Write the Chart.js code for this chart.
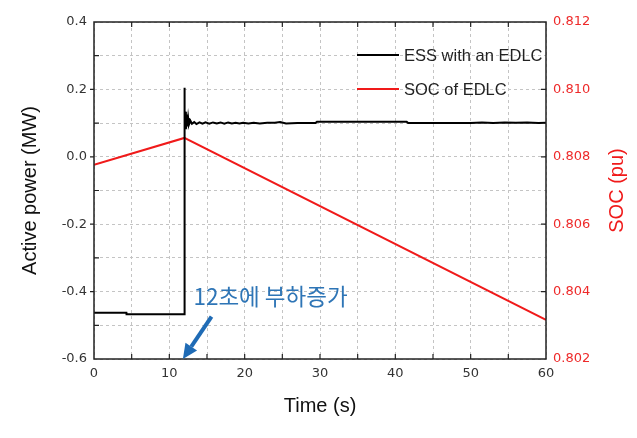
<!DOCTYPE html>
<html lang="ko">
<head>
<meta charset="UTF-8">
<title>ESS with an EDLC</title>
<script src="https://cdn.jsdelivr.net/npm/chart.js"></script>
<style>
  body { margin: 0; background: #fff; }
  canvas { display: block; }
</style>
</head>
<body>
<canvas id="chart" width="637" height="438"></canvas>
<script>
// active power of the ESS (MW)
const powerTime  = [0, 4.3, 4.32, 11.98, 12.0, 12.05, 12.1, 12.2, 12.3, 12.4, 12.5, 12.6, 12.8, 13.0, 13.3, 13.6, 14.0, 14.4, 14.8, 15.3, 15.8, 16.3, 16.8, 17.3, 17.8, 18.3, 18.8, 19.3, 19.8, 20.5, 21.2, 22.0, 23.0, 24.0, 24.7, 25.5, 27.0, 29.4, 29.6, 33.0, 37.0, 41.5, 41.7, 45.0, 50.0, 51.5, 53.0, 54.5, 56.0, 57.5, 59.0, 60.0];
const powerValue = [-0.463, -0.463, -0.467, -0.467, 0.205, 0.12, 0.134, 0.082, 0.125, 0.09, 0.115, 0.095, 0.107, 0.098, 0.103, 0.097, 0.102, 0.098, 0.102, 0.098, 0.102, 0.099, 0.102, 0.098, 0.102, 0.099, 0.101, 0.099, 0.101, 0.099, 0.101, 0.099, 0.101, 0.101, 0.103, 0.099, 0.100, 0.100, 0.104, 0.104, 0.104, 0.104, 0.100, 0.100, 0.100, 0.102, 0.100, 0.102, 0.101, 0.102, 0.100, 0.101];

// state of charge of the EDLC (pu)
const socTime  = [0, 12, 60];
const socValue = [0.80776, 0.80856, 0.80316];

const seriesLabels = ['ESS with an EDLC', 'SOC of EDLC'];
const seriesColors = ['#000000', '#f01a1a'];

const xTitle = 'Time (s)';
const yTitle = 'Active power (MW)';
const y1Title = 'SOC (pu)';
const note = '12초에 부하증가';

const pts = (xs, ys) => xs.map((x, i) => ({ x: x, y: ys[i] }));

const tickFont = { family: 'DejaVu Sans', size: 13 };

// frame, inner ticks, legend, right title, annotation
const decor = {
  id: 'decor',
  afterDatasetsDraw(chart) {
    const { ctx, chartArea: a, scales } = chart;
    const sx = scales.x, sy = scales.y, sy1 = scales.y1;
    ctx.save();
    ctx.strokeStyle = '#222';
    ctx.lineWidth = 1.5;
    ctx.strokeRect(a.left, a.top, a.right - a.left, a.bottom - a.top);

    ctx.lineWidth = 1.2;
    ctx.beginPath();
    for (let t = 5; t < 60; t += 5) {
      const px = sx.getPixelForValue(t);
      ctx.moveTo(px, a.bottom); ctx.lineTo(px, a.bottom - 5);
      ctx.moveTo(px, a.top); ctx.lineTo(px, a.top + 5);
    }
    for (let k = 1; k < 10; k++) {
      const py = sy.getPixelForValue(-0.6 + k * 0.1);
      if (k % 2 === 0) { ctx.moveTo(a.left - 4, py); ctx.lineTo(a.left, py); }
      else { ctx.moveTo(a.left, py); ctx.lineTo(a.left + 5, py); }
    }
    for (let k = 1; k < 5; k++) {
      const py = sy1.getPixelForValue(0.802 + k * 0.002);
      ctx.moveTo(a.right, py); ctx.lineTo(a.right - 5, py);
    }
    ctx.stroke();

    // legend
    ctx.font = '16.5px "Liberation Sans"';
    ctx.textBaseline = 'middle';
    ctx.textAlign = 'left';
    chart.data.datasets.forEach((ds, i) => {
      const y = a.top + 33 + i * 34;
      const x0 = a.right - 189;
      ctx.strokeStyle = ds.borderColor;
      ctx.lineWidth = 2;
      ctx.beginPath(); ctx.moveTo(x0, y); ctx.lineTo(x0 + 42, y); ctx.stroke();
      ctx.fillStyle = '#222';
      ctx.fillText(ds.label, x0 + 47, y + 1);
    });

    // right axis title
    ctx.save();
    ctx.translate(a.right + 71, (a.top + a.bottom) / 2);
    ctx.rotate(-Math.PI / 2);
    ctx.fillStyle = '#f01a1a';
    ctx.font = '20px "Liberation Sans"';
    ctx.textAlign = 'center';
    ctx.textBaseline = 'middle';
    ctx.fillText(y1Title, 0, 0);
    ctx.restore();

    // annotation
    ctx.fillStyle = '#2e75b6';
    ctx.font = '22.5px "Noto Sans CJK KR"';
    ctx.textAlign = 'left';
    ctx.textBaseline = 'alphabetic';
    ctx.fillText(note, sx.getPixelForValue(13.2), sy.getPixelForValue(-0.441));

    const tx = sx.getPixelForValue(15.6), ty = sy.getPixelForValue(-0.474);
    const hx = sx.getPixelForValue(11.8), hy = sy.getPixelForValue(-0.6);
    const ang = Math.atan2(hy - ty, hx - tx);
    const hl = 15, hw = 7;
    const bx = hx - hl * Math.cos(ang), by = hy - hl * Math.sin(ang);
    ctx.strokeStyle = '#1f6bb5';
    ctx.fillStyle = '#1f6bb5';
    ctx.lineWidth = 4;
    ctx.beginPath(); ctx.moveTo(tx, ty); ctx.lineTo(bx, by); ctx.stroke();
    ctx.beginPath();
    ctx.moveTo(hx, hy);
    ctx.lineTo(bx + hw * Math.sin(ang), by - hw * Math.cos(ang));
    ctx.lineTo(bx - hw * Math.sin(ang), by + hw * Math.cos(ang));
    ctx.closePath();
    ctx.fill();
    ctx.restore();
  }
};

new Chart(document.getElementById('chart'), {
  type: 'line',
  data: {
    datasets: [
      {
        label: seriesLabels[0],
        data: pts(powerTime, powerValue),
        yAxisID: 'y',
        borderColor: seriesColors[0],
        borderWidth: 2,
        pointRadius: 0,
        tension: 0
      },
      {
        label: seriesLabels[1],
        data: pts(socTime, socValue),
        yAxisID: 'y1',
        borderColor: seriesColors[1],
        borderWidth: 2,
        pointRadius: 0,
        tension: 0
      }
    ]
  },
  options: {
    responsive: false,
    animation: false,
    layout: { padding: { top: 22, left: 0, right: 0, bottom: 0 } },
    plugins: { legend: { display: false }, tooltip: { enabled: false } },
    scales: {
      x: {
        type: 'linear',
        min: 0, max: 60,
        afterFit: s => { s.height = 79; },
        grid: { color: '#c4c4c4', drawTicks: false },
        border: { display: false, dash: [3, 3] },
        ticks: {
          stepSize: 5,
          padding: 7,
          color: '#333',
          font: tickFont,
          maxRotation: 0,
          autoSkip: false,
          callback: v => (v % 10 === 0 ? String(v) : '')
        },
        title: {
          display: true,
          text: xTitle,
          color: '#111',
          font: { family: 'Liberation Sans', size: 20 },
          padding: { top: 0, bottom: 20 }
        }
      },
      y: {
        position: 'left',
        min: -0.6, max: 0.4,
        afterFit: s => { s.width = 94; },
        grid: { color: '#c4c4c4', drawTicks: false },
        border: { display: false, dash: [3, 3] },
        ticks: {
          stepSize: 0.1,
          padding: 7,
          color: '#333',
          font: tickFont,
          autoSkip: false,
          callback: v => (Math.round(v * 10) % 2 === 0 ? v.toFixed(1) : '')
        },
        title: {
          display: true,
          text: yTitle,
          color: '#111',
          font: { family: 'Liberation Sans', size: 20 },
          padding: { top: 18, bottom: 0 }
        }
      },
      y1: {
        position: 'right',
        min: 0.802, max: 0.812,
        afterFit: s => { s.width = 91; },
        grid: { display: false, drawTicks: false },
        border: { display: false },
        ticks: {
          stepSize: 0.002,
          padding: 7,
          color: '#ee2a2a',
          font: tickFont,
          autoSkip: false,
          callback: v => v.toFixed(3)
        }
      }
    }
  },
  plugins: [decor]
});
</script>
</body>
</html>
